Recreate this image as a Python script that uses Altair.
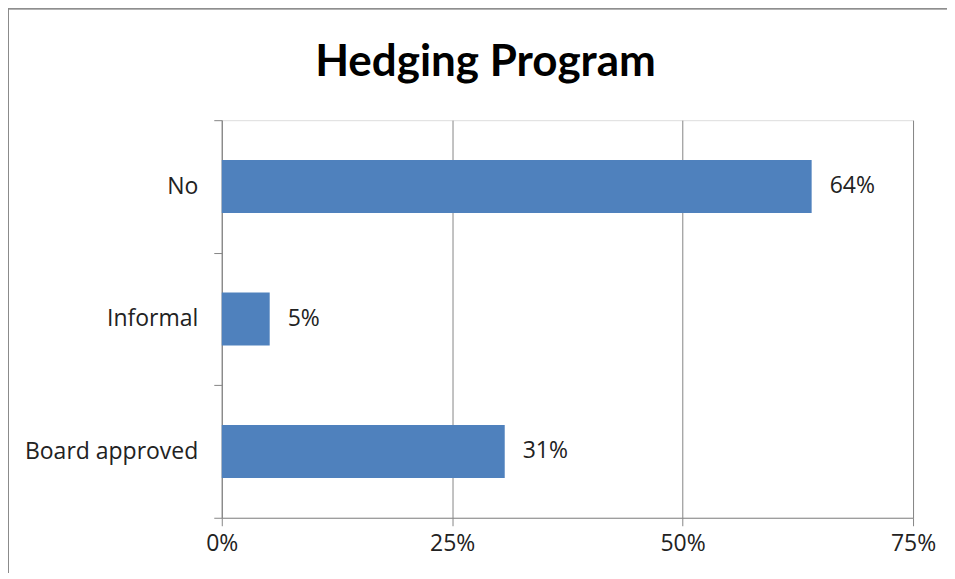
import altair as alt
import pandas as pd

categories = ["No", "Informal", "Board approved"]
values = [0.64, 0.052, 0.307]
tick_values = [0, 0.25, 0.5, 0.75]
title_text = "Hedging Program"

df = pd.DataFrame({"category": categories, "value": values})

label_font = "Open Sans"
font_size = 23
text_color = "#222222"
line_color = "#868686"

x_enc = alt.X(
    "value:Q",
    scale=alt.Scale(domain=[0, 0.75], nice=False),
    axis=alt.Axis(
        values=tick_values, format=".0%", title=None,
        grid=True, gridColor=line_color, gridWidth=1,
        domainColor=line_color, tickColor=line_color, tickSize=8,
        labelFont=label_font, labelFontSize=font_size, labelColor=text_color,
        labelPadding=7, labelFlush=False,
    ),
)
y_enc = alt.Y(
    "category:N",
    sort=categories,
    scale=alt.Scale(paddingInner=0, paddingOuter=0),
    axis=alt.Axis(
        title=None, grid=False, tickBand="extent",
        domainColor=line_color, tickColor=line_color, tickSize=8,
        labelFont=label_font, labelFontSize=font_size, labelColor=text_color,
        labelPadding=16,
    ),
)

bars = alt.Chart(df).mark_bar(
    color="#4F81BD", height=alt.RelativeBandSize(0.4)
).encode(x=x_enc, y=y_enc)

labels = alt.Chart(df).mark_text(
    align="left", baseline="middle", dx=18,
    font=label_font, fontSize=font_size, color=text_color,
).encode(
    x="value:Q",
    y=alt.Y("category:N", sort=categories),
    text=alt.Text("value:Q", format=".0%"),
)

border_left = alt.Chart(df).mark_rule(color="#8c8c8c", strokeWidth=1).encode(
    x=alt.value(-213.5), y=alt.value(-112), y2=alt.value(460)
)
border_top = alt.Chart(df).mark_rule(color="#8c8c8c", strokeWidth=1).encode(
    x=alt.value(-214), x2=alt.value(730), y=alt.value(-111.5)
)

chart = alt.layer(bars, labels, border_left, border_top).properties(
    width=692,
    height=398,
    title=alt.TitleParams(
        text=title_text, font="Lato", fontSize=44, fontWeight="bold",
        color="#000000", anchor="middle", dx=-82, offset=-112,
        baseline="alphabetic",
    ),
    autosize=alt.AutoSizeParams(type="none"),
    padding={"left": 214, "top": 112, "right": 34, "bottom": 55},
).configure_view(stroke=None).configure(background="white")

chart.save("out.html", embed_options={"renderer": "svg", "actions": False})
